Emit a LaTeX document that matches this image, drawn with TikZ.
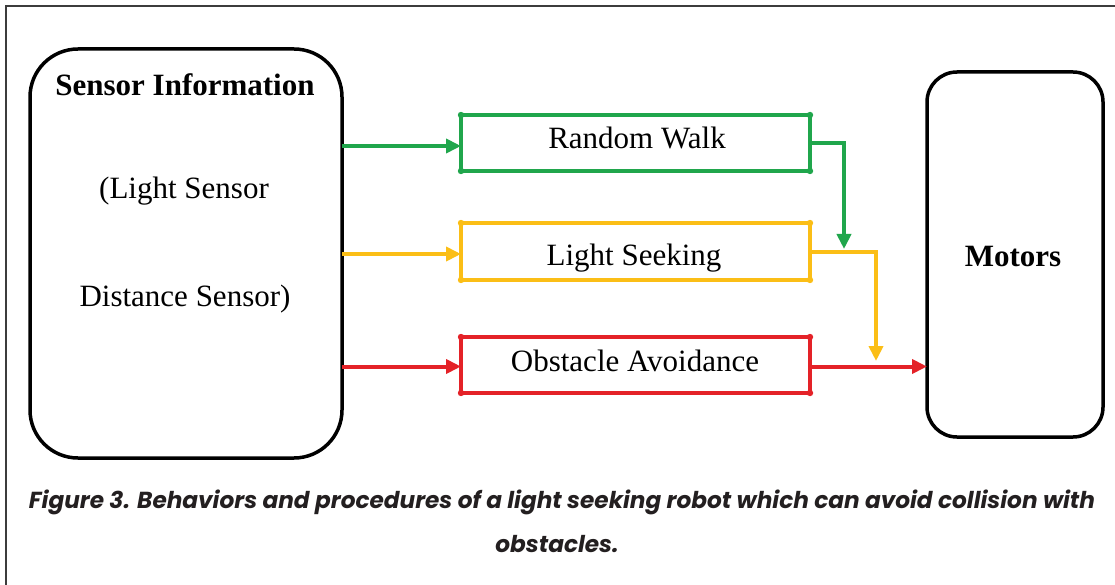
\documentclass[tikz,border=0pt]{standalone}
\usepackage{fontspec}
\setmainfont{Liberation Serif}
\newfontfamily\capfont{Poppins}
\usetikzlibrary{arrows.meta,calc}
\definecolor{cgreen}{RGB}{32,166,76}
\definecolor{cyellow}{RGB}{251,190,22}
\definecolor{cred}{RGB}{228,34,40}
\definecolor{capgray}{RGB}{35,31,32}
\definecolor{framegray}{RGB}{60,60,60}
\begin{document}
\begin{tikzpicture}[x=1pt,y=-1pt,
  bigbox/.style={draw=black, line width=3.5pt, inner sep=0pt, outer sep=0pt},
  cbox/.style={draw=#1, line width=4pt, inner sep=0pt, outer sep=0pt,
    minimum width=349pt, minimum height=56pt},
  lbl/.style={anchor=base, inner sep=0pt, font=\fontsize{31}{37}\selectfont},
  arr/.style={line width=4pt, -{Triangle[length=15pt,width=14pt]}},
  captext/.style={anchor=base, inner sep=0pt, text=capgray,
    font=\capfont\bfseries\itshape\fontsize{23.2}{28}\selectfont},
  cdot/.style={fill=#1, draw=none}
]
\useasboundingbox (0,0) rectangle (1115,585);
\draw[framegray, line width=1.3pt] (1115,6) -- (6,6) -- (6,585);

% big boxes
\node[bigbox, rounded corners=48pt, minimum width=312pt, minimum height=409pt] (sensor) at (186,253.5) {};
\node[bigbox, rounded corners=30pt, minimum width=176pt, minimum height=365pt] (mot) at (1015,254.5) {};

\node[lbl, font=\fontsize{31}{37}\selectfont\bfseries] (t1) at (185,96) {Sensor Information};
\node[lbl] (t2) at (184,199) {(Light Sensor};
\node[lbl] (t3) at (185,306) {Distance Sensor)};
\node[lbl, font=\fontsize{31}{37}\selectfont\bfseries] (tm) at (1013,266) {Motors};

% behaviour boxes
\node[cbox=cgreen] (rw) at (635.5,143) {};
\node[cbox=cyellow, minimum height=57pt] (ls) at (635.5,251.5) {};
\node[cbox=cred] (oa) at (635.5,365) {};

\node[lbl] (trw) at (637,149) {Random Walk};
\node[lbl] (tls) at (634,265) {Light Seeking};
\node[lbl] (toa) at (635,371) {Obstacle Avoidance};

\foreach \b/\c in {rw/cgreen, ls/cyellow, oa/cred}{
  \foreach \a in {north west, north east, south west, south east}{
    \fill[cdot=\c] (\b.\a) circle (3.2pt);
  }
}

% connectors in
\draw[arr, cgreen] ($(sensor.east |- rw.west)+(0,3)$) -- ($(rw.west)+(0,3)$);
\draw[arr, cyellow] ($(sensor.east |- ls.west)+(0,2.5)$) -- ($(ls.west)+(0,2.5)$);
\draw[arr, cred] ($(sensor.east |- oa.west)+(0,1.5)$) -- ($(oa.west)+(0,1.5)$);

% connectors out
\coordinate (j1) at (844,249);
\coordinate (j2) at (876,361);
\draw[arr, cgreen] (rw.east) -- (j1 |- rw.east) -- (j1);
\draw[arr, cyellow] (ls.east) -- (j2 |- ls.east) -- (j2);
\draw[arr, cred] ($(oa.east)+(0,1.5)$) -- ($(mot.west |- oa.east)+(0,1.5)$);

% caption
\node[captext] (cap1) at (562,508) {Figure 3. Behaviors and procedures of a light seeking robot which can avoid collision with};
\node[captext] (cap2) at (557,552) {obstacles.};
\end{tikzpicture}
\end{document}
